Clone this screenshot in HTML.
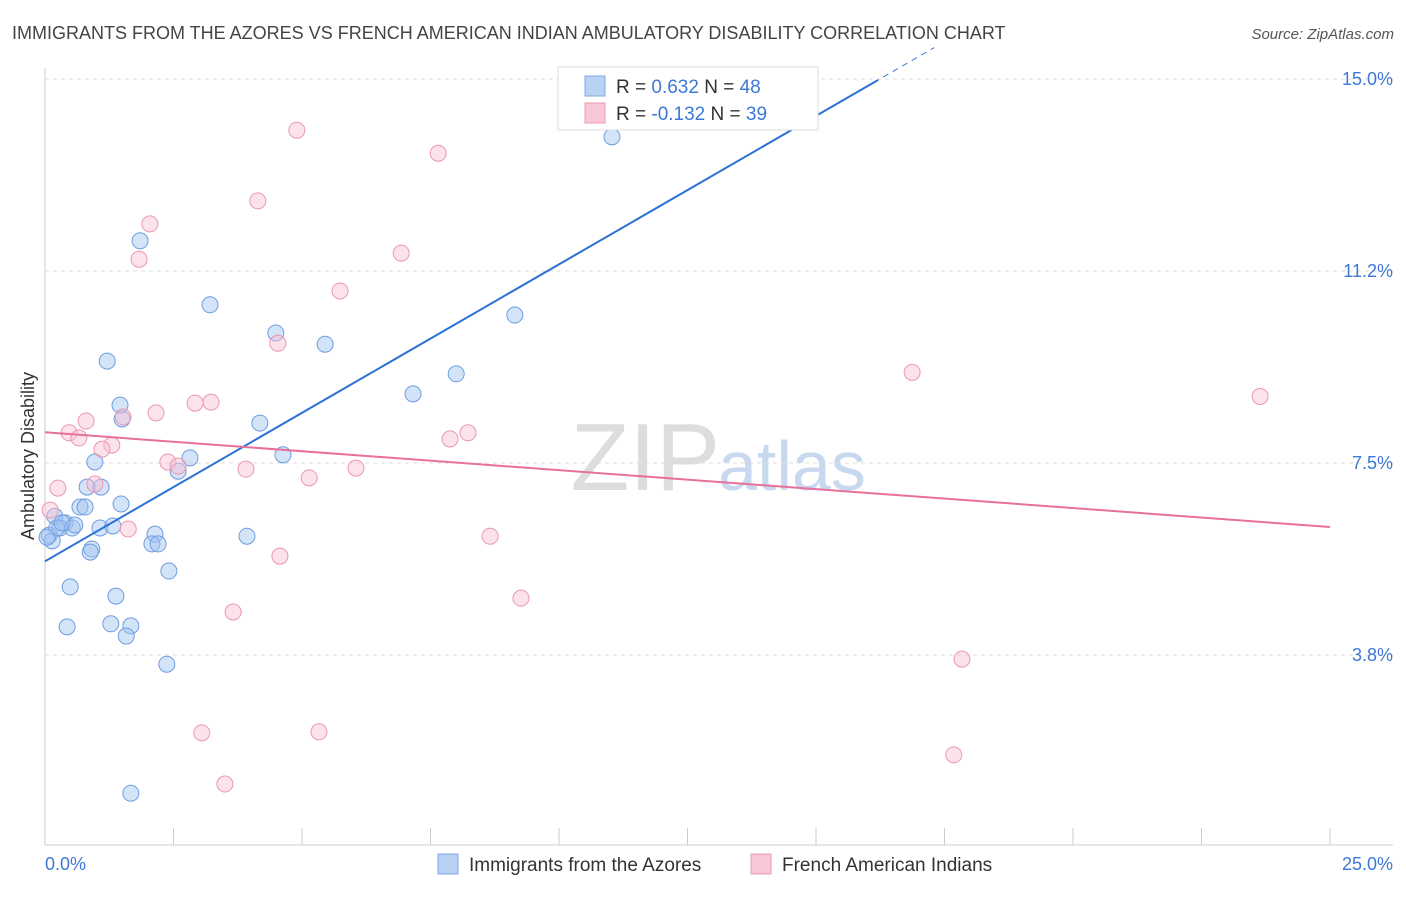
<!DOCTYPE html>
<html><head><meta charset="utf-8"><style>
body{margin:0;background:#fff;font-family:"Liberation Sans",sans-serif}
svg text{font-family:"Liberation Sans",sans-serif}
</style></head><body>
<svg width="1406" height="892">
<text x="12" y="39" font-size="18" fill="#444">IMMIGRANTS FROM THE AZORES VS FRENCH AMERICAN INDIAN AMBULATORY DISABILITY CORRELATION CHART</text>
<text x="1394" y="39" font-size="15" fill="#555" text-anchor="end" font-style="italic">Source: ZipAtlas.com</text>
<text x="720" y="490" font-size="96" fill="#ddd" text-anchor="end" font-family="Liberation Serif">ZIP</text>
<text x="718" y="490" font-size="70" fill="#c8d8ee">atlas</text>
<g id="grid"></g>
<line x1="45" y1="68" x2="45" y2="845" stroke="#ccc"/>
<line x1="45" y1="845" x2="1393" y2="845" stroke="#ccc"/>
<g id="xt"></g>
<text x="45" y="870" font-size="18" fill="#3d78d8">0.0%</text>
<text x="1393" y="870" font-size="18" fill="#3d78d8" text-anchor="end">25.0%</text>
<text x="34" y="456" font-size="18" fill="#333" text-anchor="middle" transform="rotate(-90 34 456)">Ambulatory Disability</text>
<g id="pts"></g>
<g id="lines"></g>
<g>
<rect x="558" y="67" width="260" height="63" fill="#fff" stroke="#ddd"/>
<rect x="585" y="76" width="20" height="20" fill="#b8d2f4" stroke="#7fa9e0"/>
<rect x="585" y="103" width="20" height="20" fill="#f8c6d6" stroke="#eb9ab6"/>
<text x="616" y="93" font-size="19" fill="#333">R = <tspan fill="#3d78d8">0.632</tspan>   N = <tspan fill="#3d78d8">48</tspan></text>
<text x="616" y="120" font-size="19" fill="#333">R = <tspan fill="#3d78d8">-0.132</tspan>   N = <tspan fill="#3d78d8">39</tspan></text>
</g>
<g>
<rect x="438" y="854" width="20" height="20" fill="#b8d2f4" stroke="#7fa9e0"/>
<text x="469" y="871" font-size="19" fill="#333">Immigrants from the Azores</text>
<rect x="751" y="854" width="20" height="20" fill="#f8c6d6" stroke="#eb9ab6"/>
<text x="782" y="871" font-size="19" fill="#333">French American Indians</text>
</g>
</svg>
<script>
const yTicks=[15.0,11.25,7.5,3.75];
const yTickLabels=["15.0%","11.2%","7.5%","3.8%"];
const xTicks=[0,2.5,5,7.5,10,12.5,15,17.5,20,22.5,25];
const blueX=[11.03,1.85,3.21,9.14,4.49,5.45,1.21,8.0,7.16,1.46,1.5,4.18,4.63,2.82,0.97,2.59,0.82,1.09,1.48,0.68,0.78,0.19,0.39,0.29,1.07,1.32,0.53,0.08,0.14,2.14,3.93,2.08,2.2,0.91,0.88,2.41,0.49,1.38,0.43,1.28,1.67,1.58,2.37,1.67,0.23,0.04,0.58,0.33];
const blueY=[13.87,11.84,10.59,10.39,10.04,9.82,9.49,9.24,8.85,8.63,8.36,8.28,7.66,7.6,7.52,7.34,7.03,7.03,6.7,6.64,6.64,6.46,6.33,6.23,6.23,6.27,6.23,6.09,5.98,6.11,6.07,5.92,5.92,5.82,5.76,5.39,5.08,4.9,4.3,4.36,4.32,4.12,3.57,1.05,6.23,6.05,6.29,6.33];
const pinkX=[4.9,7.65,4.14,2.04,1.83,6.93,5.74,4.53,16.87,23.64,3.23,2.92,2.16,0.8,1.52,8.23,0.47,0.66,7.88,1.3,1.11,2.39,2.59,3.91,6.05,5.14,0.97,0.25,1.62,8.66,4.57,9.26,3.66,17.84,3.05,5.33,17.68,3.5,0.1];
const pinkY=[14.0,13.55,12.62,12.17,11.48,11.6,10.86,9.84,9.27,8.8,8.69,8.67,8.48,8.32,8.4,8.09,8.09,7.99,7.97,7.85,7.77,7.52,7.44,7.38,7.4,7.21,7.09,7.01,6.21,6.07,5.68,4.86,4.59,3.67,2.23,2.25,1.8,1.23,6.58];
const blueFit=[0,5.58,15,14.28];
const pinkFit=[0,8.1,25,6.25];
const X=v=>45+v/25*1285, Y=v=>847-v*51.2;
const ns="http://www.w3.org/2000/svg";
function mk(t,a,p){const e=document.createElementNS(ns,t);for(const k in a)e.setAttribute(k,a[k]);document.getElementById(p).appendChild(e);return e;}
yTicks.forEach((v,i)=>{
 const l=mk('line',{x1:45,x2:1393,y1:Y(v),y2:Y(v),stroke:'#ddd','stroke-dasharray':'4,4'},'grid');
 
 
 const t=mk('text',{x:1393,y:Y(v)+6,'font-size':18,fill:'#3d78d8','text-anchor':'end'},'grid');
 t.textContent=yTickLabels[i];
 
 
});
xTicks.forEach(v=>{
 const l=mk('line',{x1:X(v),x2:X(v),y1:828,y2:845,stroke:'#ccc'},'xt');
 
 
});
blueX.forEach((v,i)=>{
 const c=mk('circle',{cx:X(v),cy:Y(blueY[i]),r:8,fill:'rgba(160,196,240,0.45)',stroke:'#6d9de0','stroke-width':1},'pts');
 
 
});
pinkX.forEach((v,i)=>{
 const c=mk('circle',{cx:X(v),cy:Y(pinkY[i]),r:8,fill:'rgba(248,190,210,0.45)',stroke:'#ea97b4','stroke-width':1},'pts');
 
 
});
const slope=(blueFit[3]-blueFit[1])/(blueFit[2]-blueFit[0]);
const bEnd=16.2, bDash=17.3;
let l1=mk('line',{x1:X(blueFit[0]),y1:Y(blueFit[1]),x2:X(bDash),y2:Y(blueFit[1]+slope*bDash),stroke:'#3d78d8','stroke-width':1,'stroke-dasharray':'6,5'},'lines');


let l2=mk('line',{x1:X(blueFit[0]),y1:Y(blueFit[1]),x2:X(bEnd),y2:Y(blueFit[1]+slope*bEnd),stroke:'#2a70d6','stroke-width':2},'lines');


let l3=mk('line',{x1:X(pinkFit[0]),y1:Y(pinkFit[1]),x2:X(pinkFit[2]),y2:Y(pinkFit[3]),stroke:'#e8709a','stroke-width':2},'lines');


</script>
</body></html>
